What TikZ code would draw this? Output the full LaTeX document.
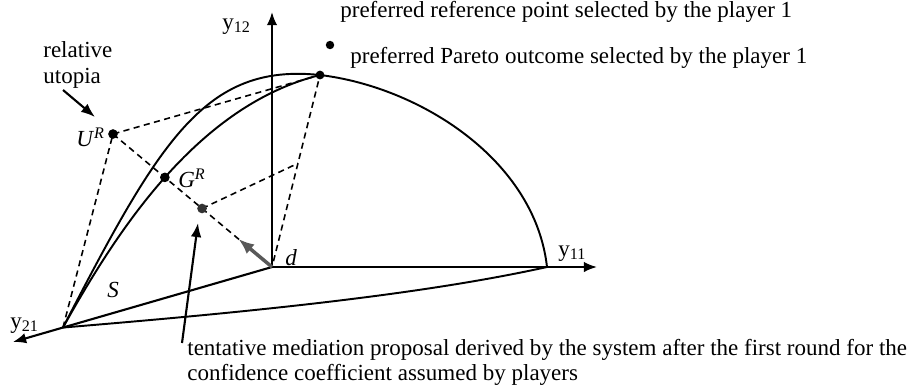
\documentclass[tikz,border=0pt]{standalone}
\usepackage{fontspec}
\setmainfont{Liberation Serif}
\usetikzlibrary{arrows.meta,calc,intersections}
\begin{document}
\begin{tikzpicture}[
    x=0.02cm, y=-0.02cm,
    axis/.style={line width=1.2pt, -{Latex[length=7.5pt,width=6pt]}},
    bound/.style={line width=1.1pt},
    guide/.style={line width=0.9pt, dash pattern=on 3.5pt off 2.5pt},
    pt/.style={circle, fill=black, inner sep=0pt, minimum size=5.5pt},
    txt/.style={font=\fontsize{13.1}{15.5}\selectfont, inner sep=0pt, anchor=base west},
    arr/.style={line width=1.2pt, -{Latex[length=8pt,width=6pt]}},
]
\useasboundingbox (0,0) rectangle (915,390);
% axes meet in the disagreement point d
\coordinate (d) at (272,267);
\coordinate (y12) at (272,12);
\coordinate (y11) at (597,267);
\coordinate (y21) at (13,342);
\coordinate (c21) at ($(d)!0.807!(y21)$);
\coordinate (c11) at (547,267);
\coordinate (P) at (320,75);
\coordinate (U) at (113,134);
\coordinate (R) at (330,45);

\draw[axis] (d) -- (y12);
\draw[axis] (d) -- (y11);
\draw[axis] (d) -- (y21);

% the set S
\draw[bound] (c21) .. controls (160,140) and (205,63) .. (P)
                   .. controls (420,87) and (535,160) .. (c11);
\draw[bound, name path=inner] (c21) .. controls (120,225) and (200,105) .. (P);
\draw[bound] (c21) .. controls (250,312) and (420,295) .. (c11);

\draw[guide] (c21) -- (U) -- (P) -- (d);
\draw[guide, name path=ud] (U) -- (d);
\path[name intersections={of=inner and ud, by=G}];
\coordinate (M) at ($(U)!0.56!(d)$);
\coordinate (Q) at ($(P)!0.46!(d)$);
\draw[guide] (M) -- (Q);
\coordinate (g) at ($(d)!0.48!(M)$);
\draw[line width=2pt, black!65, -{Latex[length=9pt,width=7pt]}] (d) -- (g);

\node[pt] (u) at (U) {};
\node[pt] (gr) at (G) {};
\node[pt, fill=black!80] (m) at (M) {};
\node[pt, minimum size=5pt] (p) at (P) {};
\node[pt, minimum size=4.8pt] (r) at (R) {};

\node[txt] (l12) at (222,29) {y\textsubscript{12}};
\node[txt] (l11) at (558,256) {y\textsubscript{11}};
\node[txt] (l21) at (10,328) {y\textsubscript{21}};
\node[txt] (lU) at (76,146) {\textit{U}\textsuperscript{\textit{R}}};
\node[txt] (lG) at (178,187) {\textit{G}\textsuperscript{\textit{R}}};
\node[txt] (ld) at (285,265) {\textit{d}};
\node[txt] (lS) at (107,297) {\textit{S}};

\node[txt] (lref) at (340,17) {preferred reference point selected by the player 1};
\node[txt] (lpar) at (350,63) {preferred Pareto outcome selected by the player 1};
\node[txt] (lrel) at (43,57) {relative};
\node[txt] (luto) at (43,83) {utopia};
\node[txt] (lmed) at (187,355) {tentative mediation proposal derived by the system after the first round for the};
\node[txt] (lcon) at (187,380) {confidence coefficient assumed by players};

\coordinate (ua) at (63,90);
\coordinate (ut) at (95,117);
\draw[arr] (ua) -- (ut);
\coordinate (ma) at (182,343);
\coordinate (mt) at (198,223);
\draw[arr] (ma) -- (mt);
\end{tikzpicture}
\end{document}
